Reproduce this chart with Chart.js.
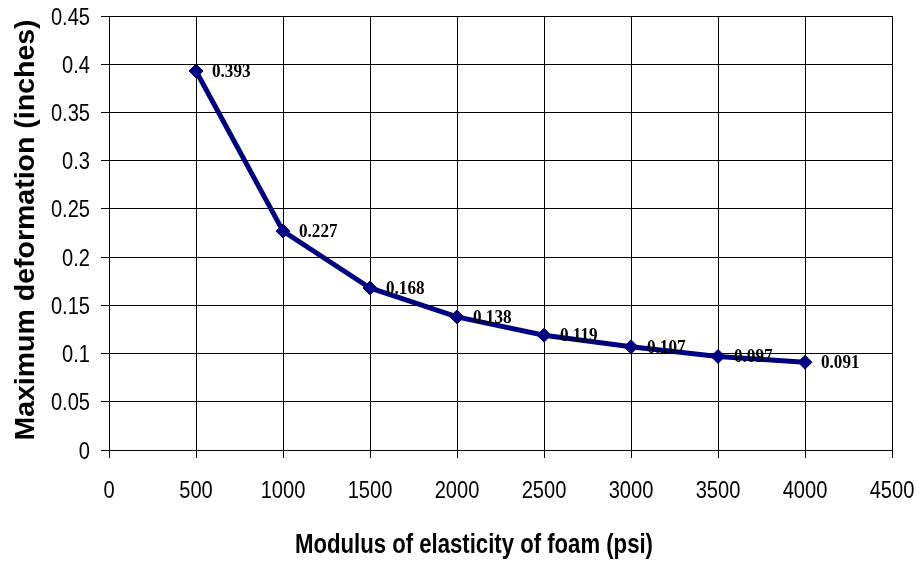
<!DOCTYPE html>
<html>
<head>
<meta charset="utf-8">
<title>Maximum deformation vs. foam modulus</title>
<script src="https://cdn.jsdelivr.net/npm/chart.js@4/dist/chart.umd.min.js"></script>
<style>
  html, body { margin: 0; padding: 0; background: #ffffff; }
  #chart { display: block; }
</style>
</head>
<body>
<canvas id="chart" width="919" height="564"></canvas>
<script>
// Foam modulus of elasticity (psi) and the resulting maximum deformation (inches)
const modulusPsi = [500, 1000, 1500, 2000, 2500, 3000, 3500, 4000];
const maxDeformation = [0.393, 0.227, 0.168, 0.138, 0.119, 0.107, 0.097, 0.091];

// Axis tick labels
const xTickLabels = ['0', '500', '1000', '1500', '2000', '2500', '3000', '3500', '4000', '4500'];
const yTickLabels = ['0', '0.05', '0.1', '0.15', '0.2', '0.25', '0.3', '0.35', '0.4', '0.45'];

// Axis titles
const xTitle = 'Modulus of elasticity of foam (psi)';
const yTitle = 'Maximum deformation (inches)';

const sans = "'Liberation Sans', Arial, sans-serif";
const serif = "'Liberation Serif', 'Times New Roman', serif";

// Draws text squeezed horizontally (narrow face look)
function narrowText(ctx, text, x, y, squeeze) {
  ctx.save();
  ctx.translate(x, y);
  ctx.scale(squeeze, 1);
  ctx.fillText(text, 0, 0);
  ctx.restore();
}

// Tick labels placed at the scale positions of their values
const tickLabels = {
  id: 'tickLabels',
  afterDraw(chart) {
    const ctx = chart.ctx;
    const xs = chart.scales.x;
    const ys = chart.scales.y;
    const area = chart.chartArea;
    ctx.save();
    ctx.fillStyle = '#000000';
    ctx.font = "24.5px " + sans;
    ctx.textBaseline = 'alphabetic';
    ctx.textAlign = 'center';
    xTickLabels.forEach(l => {
      narrowText(ctx, l, xs.getPixelForValue(Number(l)), area.bottom + 47.5, 0.82);
    });
    ctx.textAlign = 'right';
    yTickLabels.forEach(l => {
      narrowText(ctx, l, area.left - 19, ys.getPixelForValue(Number(l)) + 8.5, 0.82);
    });
    ctx.restore();
  }
};

// Value labels to the right of each point, taken from the dataset values
const pointValueLabels = {
  id: 'pointValueLabels',
  afterDatasetsDraw(chart) {
    const ctx = chart.ctx;
    const meta = chart.getDatasetMeta(0);
    const values = chart.data.datasets[0].data;
    ctx.save();
    ctx.font = "bold 19px " + serif;
    ctx.fillStyle = '#000000';
    ctx.textAlign = 'left';
    ctx.textBaseline = 'middle';
    meta.data.forEach((pt, i) => {
      narrowText(ctx, values[i].y.toFixed(3), pt.x + 16, pt.y + 1, 0.9);
    });
    ctx.restore();
  }
};

// Axis titles placed around the plot
const axisTitles = {
  id: 'axisTitles',
  afterDraw(chart) {
    const ctx = chart.ctx;
    const area = chart.chartArea;
    ctx.save();
    ctx.fillStyle = '#000000';
    ctx.textAlign = 'center';
    ctx.textBaseline = 'alphabetic';
    ctx.font = "bold 27px " + sans;
    narrowText(ctx, xTitle, 474, 553, 0.82);
    ctx.translate(34, (area.top + area.bottom) / 2 - 3);
    ctx.rotate(-Math.PI / 2);
    ctx.font = "bold 28.5px " + sans;
    ctx.fillText(yTitle, 0, 0);
    ctx.restore();
  }
};

function fixedBox(size, key) {
  return function (scale) {
    scale[key] = size;
    scale.paddingTop = 0;
    scale.paddingBottom = 0;
    scale.paddingLeft = 0;
    scale.paddingRight = 0;
  };
}

new Chart(document.getElementById('chart'), {
  type: 'line',
  data: {
    datasets: [{
      data: modulusPsi.map((x, i) => ({ x: x, y: maxDeformation[i] })),
      borderColor: '#000080',
      backgroundColor: '#000080',
      borderWidth: 5,
      tension: 0,
      pointStyle: 'rectRot',
      pointRadius: 7,
      pointHoverRadius: 7,
      pointBorderWidth: 1,
      pointBorderColor: '#000080',
      pointBackgroundColor: '#000080',
      fill: false
    }]
  },
  options: {
    responsive: false,
    animation: false,
    events: [],
    layout: { padding: { top: 16, right: 27, bottom: 0, left: 0 } },
    plugins: {
      legend: { display: false },
      tooltip: { enabled: false },
      title: { display: false }
    },
    scales: {
      x: {
        type: 'linear',
        min: 0,
        max: 4500,
        afterFit: fixedBox(114, 'height'),
        afterBuildTicks(scale) {
          scale.ticks = xTickLabels.map(l => ({ value: Number(l) }));
        },
        ticks: { display: false },
        grid: {
          color: '#000000',
          lineWidth: 1,
          tickLength: 8,
          tickColor: '#000000',
          drawTicks: true
        },
        border: { color: '#000000', width: 1 }
      },
      y: {
        type: 'linear',
        min: 0,
        max: 0.45,
        afterFit: fixedBox(109, 'width'),
        afterBuildTicks(scale) {
          scale.ticks = yTickLabels.map(l => ({ value: Number(l) }));
        },
        ticks: { display: false },
        grid: {
          color: '#000000',
          lineWidth: 1,
          tickLength: 8,
          tickColor: '#000000',
          drawTicks: true
        },
        border: { color: '#000000', width: 1 }
      }
    }
  },
  plugins: [tickLabels, pointValueLabels, axisTitles]
});
</script>
</body>
</html>
